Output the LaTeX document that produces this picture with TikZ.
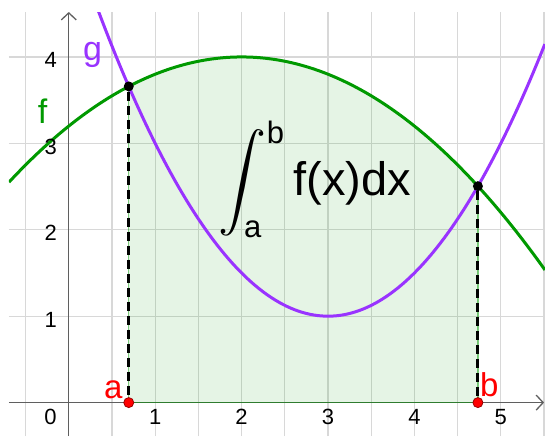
\documentclass[tikz,border=0pt]{standalone}
\usepackage{fontspec}
\setmainfont{Liberation Sans}
\usepackage{amsmath}
\usepackage{graphicx}
\usepackage{tikz}
\usetikzlibrary{arrows.meta}
\usepackage{xcolor}
\definecolor{fgreen}{RGB}{0,153,0}
\definecolor{gpurple}{RGB}{153,51,255}
\definecolor{gridgray}{RGB}{216,216,216}
\definecolor{axisgray}{RGB}{95,95,95}
\definecolor{pointred}{RGB}{255,0,0}

\begin{document}
\begin{tikzpicture}[
    x=86.4pt, y=86.4pt,
    declare function={f(\u)=4-0.2*(\u-2)^2; g(\u)=1+0.5*(\u-3)^2;},
    gridline/.style={draw=gridgray, line width=1.2pt},
    axis/.style={draw=axisgray, line width=1.3pt,
                 -{Straight Barb[length=7pt, width=15pt, line width=1.3pt]}},
    region/.style={fill=fgreen, fill opacity=0.1},
    regionedge/.style={draw=fgreen, draw opacity=0.5, line width=1.2pt},
    curvef/.style={draw=fgreen, line width=3pt},
    curveg/.style={draw=gpurple, line width=3pt},
    dropline/.style={draw=black, line width=3pt, dash pattern=on 9pt off 5pt},
    dot/.style={circle, fill=black, inner sep=0pt, minimum size=10pt},
    reddot/.style={circle, fill=pointred, draw=red!60!black, line width=0.8pt,
                   inner sep=0pt, minimum size=10pt},
    ticklabel/.style={inner sep=0pt, font=\fontsize{22}{26}\selectfont},
    curvelabel/.style={inner sep=0pt, font=\fontsize{34}{40}\selectfont},
    pointlabel/.style={inner sep=0pt, text=pointred, font=\fontsize{33}{40}\selectfont},
    limit/.style={inner sep=0pt, font=\fontsize{31}{36}\selectfont},
    integrand/.style={inner sep=0pt, font=\fontsize{47}{54}\selectfont}
]

\useasboundingbox (-0.796,-0.388) rectangle (5.511,4.659);
\fill[white] (-0.796,-0.388) rectangle (5.511,4.659);

\def\xa{0.693981}
\def\xb{4.734591}

\begin{scope}
\clip (-0.692,-0.388) rectangle (5.511,4.52);

% Grid
\foreach \k in {-1,1,2,...,11}
    \draw[gridline] ({\k/2},-0.388) -- ({\k/2},4.52);
\foreach \k in {1,...,4}
    \draw[gridline] (-0.692,\k) -- (5.511,\k);

% Area under f
\fill[region] (\xa,0) -- plot[domain=\xa:\xb, samples=80] (\x,{f(\x)}) -- (\xb,0) -- cycle;

% Axes
\coordinate (xaxL) at (-0.692,0);
\coordinate (xaxR) at (5.5,0);
\coordinate (yaxB) at (0,-0.388);
\coordinate (yaxT) at (0,4.52);
\draw[axis] (xaxL) -- (xaxR);
\draw[axis] (yaxB) -- (yaxT);

\draw[regionedge] (\xa,{f(\xa)}) -- (\xa,0) -- (\xb,0) -- (\xb,{f(\xb)});

% Curves
\draw[curvef] plot[domain=-0.692:5.511, samples=120] (\x,{f(\x)});
\draw[curveg] plot[domain=0.2:5.511, samples=120] (\x,{g(\x)});
\end{scope}

% Tick labels
\node[ticklabel] (xl0) at (-0.213,-0.168) {0};
\foreach \k in {1,...,5}
    \node[ticklabel] (xl\k) at (\k,-0.168) {\k};
\foreach \k in {1,...,4}
    \node[ticklabel, anchor=east] (yl\k) at (-0.137,{\k-0.04}) {\k};

% Intersection points
\node[dot] (ia) at (\xa,{f(\xa)}) {};
\node[dot] (ib) at (\xb,{f(\xb)}) {};
\node[reddot] (pa) at (\xa,0) {};
\node[reddot] (pb) at (\xb,0) {};

\draw[dropline] (ia) -- (pa);
\draw[dropline] (ib) -- (pb);

% Labels
\node[curvelabel, text=fgreen] (lf) at (-0.304,3.374) {f};
\node[curvelabel, text=gpurple] (lg) at (0.274,4.028) {g};
\node[pointlabel, anchor=base] (la) at (0.516,0.052) {a};
\node[pointlabel, anchor=base] (lb) at (4.867,0.075) {b};

% Integral
\node[inner sep=0pt] (intsign) at (2.010,2.541) {\scalebox{4.8}{$\displaystyle\int$}};
\node[limit] (intb) at (2.392,3.125) {b};
\node[limit] (inta) at (2.128,2.008) {a};
\node[integrand, anchor=base west] (intf) at (2.597,2.402) {f(x)dx};

\end{tikzpicture}
\end{document}
